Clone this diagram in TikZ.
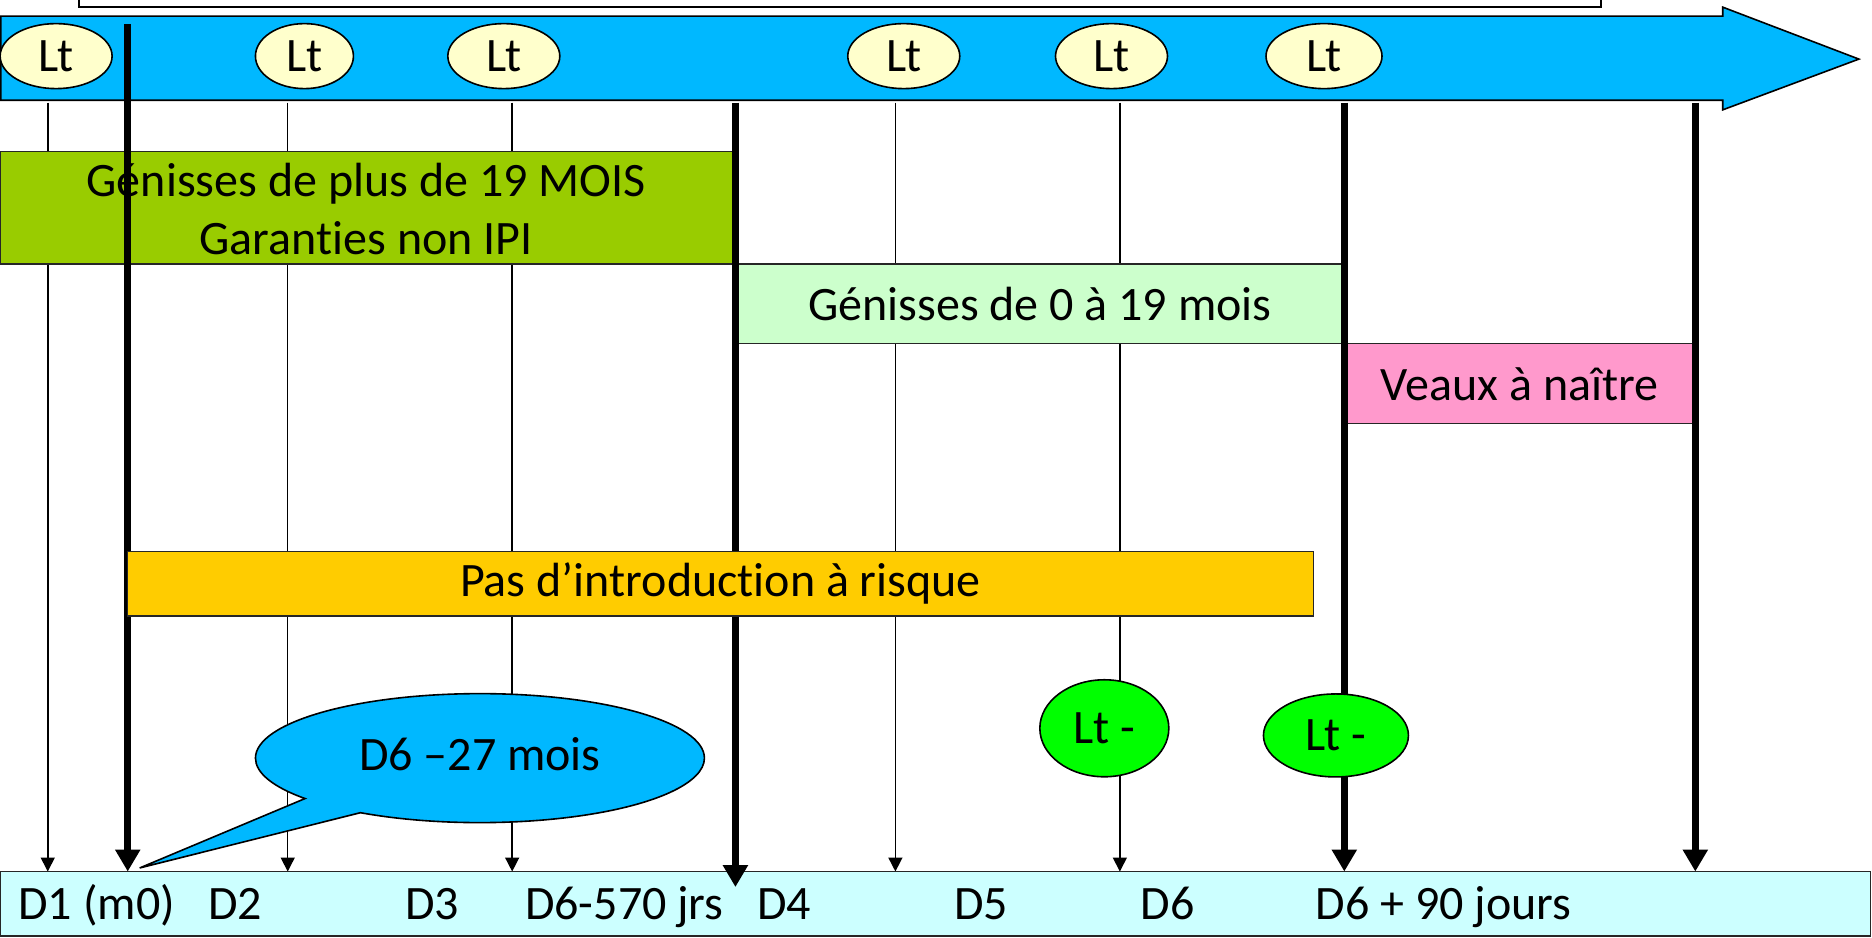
\documentclass[tikz,border=0pt]{standalone}
\usepackage{fontspec}
\setmainfont{Carlito}[Ligatures=NoCommon]
\usetikzlibrary{arrows.meta,shapes.geometric,shapes.callouts,fit}
\definecolor{skyb}{RGB}{0,184,255}
\definecolor{ltyellow}{RGB}{255,255,204}
\definecolor{vert}{RGB}{153,204,0}
\definecolor{paleg}{RGB}{204,255,204}
\definecolor{rose}{RGB}{255,153,204}
\definecolor{orangey}{RGB}{255,204,0}
\definecolor{botcyan}{RGB}{204,255,255}
\definecolor{ltgreen}{RGB}{0,255,0}
\begin{document}
\begin{tikzpicture}[x=1.194pt,y=-1.194pt,
  font=\fontsize{48}{58}\selectfont,
  ltnode/.style={ellipse, draw=black, line width=1.6pt, fill=ltyellow, minimum width=112pt, minimum height=65pt, inner sep=0pt},
  band/.style={draw=black!85, line width=1.3pt, inner sep=0pt},
  bandtext/.style={align=center, inner sep=0pt},
  thinline/.style={line width=1.5pt, -{Triangle[length=14pt,width=14pt]}},
  thickline/.style={line width=7pt, -{Triangle[length=22pt,width=24pt]}},
  ltminus/.style={ellipse, draw=black, line width=1.6pt, fill=ltgreen, inner sep=0pt},
  dlabel/.style={anchor=base}
]
\useasboundingbox (0,0) rectangle (1568,785);
% top white box
\draw[line width=1.5pt, draw=black] (66,-20) rectangle (1341,6);
% big blue arrow
\draw[fill=skyb, line width=1.6pt] (0.7,13.5) -- (1443,13.5) -- (1443,6) -- (1557,49.5) -- (1443,92) -- (1443,84) -- (0.7,84) -- cycle;
% Lt ellipses
\node[ltnode] (lt1) at (47,47) {Lt};
\node[ltnode, minimum width=98pt] (lt2) at (255,47) {Lt};
\node[ltnode] (lt3) at (422,47) {Lt};
\node[ltnode] (lt4) at (757,47) {Lt};
\node[ltnode] (lt5) at (931,47) {Lt};
\node[ltnode, minimum width=116pt] (lt6) at (1109,47) {Lt};
% coordinates
\coordinate (t1) at (40,86);   \coordinate (b1) at (40,730);
\coordinate (t2) at (241,86);  \coordinate (b2) at (241,730);
\coordinate (t3) at (429,86);  \coordinate (b3) at (429,730);
\coordinate (t4) at (750,86);  \coordinate (b4) at (750,730);
\coordinate (t5) at (938,86);  \coordinate (b5) at (938,730);
\coordinate (T1) at (107,20);  \coordinate (B1) at (107,730);
\coordinate (T2) at (616,86);  \coordinate (B2) at (616,743);
\coordinate (T3) at (1126,86); \coordinate (B3) at (1126,730);
\coordinate (T4) at (1420,86); \coordinate (B4) at (1420,730);
% thin lines
\draw[thinline] (t1) -- (b1);
\draw[thinline] (t2) -- (b2);
\draw[thinline] (t3) -- (b3);
\draw[thinline] (t4) -- (b4);
\draw[thinline] (t5) -- (b5);
% bottom box
\node[band, fill=botcyan, fit={(0.7,730)(1566.5,784)}] (bottom) {};
\node[dlabel] (d1) at (81,770) {D1 (m0)};
\node[dlabel] (d2) at (197,770) {D2};
\node[dlabel] (d3) at (362,770) {D3};
\node[dlabel] (d570) at (523,770) {D6-570 jrs};
\node[dlabel] (d4) at (657,770) {D4};
\node[dlabel] (d5) at (822,770) {D5};
\node[dlabel] (d6) at (978,770) {D6};
\node[dlabel] (d690) at (1209,770) {D6 + 90 jours};
% period bands
\node[band, fill=vert, fit={(0.7,127)(616,221)}] (g19) {};
\node[bandtext] (g19t) at ([xshift=-2pt,yshift=-1pt]g19.center) {Génisses de plus de 19 MOIS\\Garanties non IPI};
\node[band, fill=paleg, fit={(616,221)(1126,288)}] (g019) {};
\node[bandtext] (g019t) at (g019.center) {Génisses de 0 à 19 mois};
\node[band, fill=rose, fit={(1126,288)(1420,355)}] (veaux) {};
\node[bandtext] (veauxt) at (veaux.center) {Veaux à naître};
% thick lines
\draw[thickline] (T1) -- (B1);
\draw[thickline] (T2) -- (B2);
\draw[thickline] (T3) -- (B3);
\draw[thickline] (T4) -- (B4);
% orange band
\node[band, fill=orangey, fit={(107,462)(1100,516)}] (pas) {};
\node[bandtext] (past) at (pas.center) {Pas d’introduction à risque};
% callout
\node[ellipse callout, draw=black, line width=1.6pt, fill=skyb, minimum width=449pt, minimum height=129pt, inner sep=0pt, callout absolute pointer={(117,727)}, callout pointer arc=19] (call) at (402,635) {};
\node (callt) at (402,632) {D6 –27 mois};
% green ellipses
\node[ltminus, minimum width=129pt, minimum height=97pt] (lm1) at (925,610) {Lt -};
\node[ltminus, minimum width=145pt, minimum height=83pt] (lm2) at (1119,616) {Lt -};
\end{tikzpicture}
\end{document}
